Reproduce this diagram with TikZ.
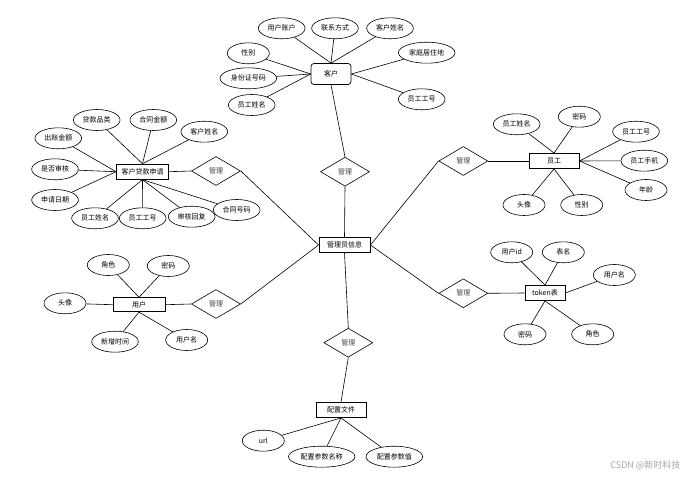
\documentclass[tikz,border=0pt]{standalone}
\usepackage{fontspec}
\setmainfont{Noto Sans CJK SC}
\usetikzlibrary{shapes.geometric}
\tikzset{
  attr/.style={ellipse, draw, line width=0.6pt, fill=white, minimum width=42pt, minimum height=21pt, inner xsep=2.5pt, inner ysep=1pt, font=\fontsize{7}{8}\selectfont},
  ent/.style={rectangle, draw, line width=0.9pt, fill=white, minimum height=15pt, inner sep=1pt, font=\fontsize{7}{8}\selectfont},
  rel/.style={diamond, draw, line width=0.6pt, fill=white, aspect=1.7, minimum width=49pt, minimum height=29pt, inner sep=0pt, font=\fontsize{7}{8}\selectfont, text=black!75},
  link/.style={line width=0.6pt},
}
\begin{document}
\begin{tikzpicture}[x=1pt,y=-1pt]
\useasboundingbox[fill=white] (0,0) rectangle (690,478);
% links drawn first
% center
\node[ent, minimum width=51pt] (m) at (344.5,245) {管理员信息};
% customer
\node[ent, rounded corners=3pt, minimum width=40pt, minimum height=21pt, line width=0.7pt] (k) at (331,74) {客户};
\node[attr] (k1) at (281.7,28.3) {用户账户};
\node[attr] (k2) at (335,28.3) {联系方式};
\node[attr] (k3) at (390,28.3) {客户姓名};
\node[attr] (k4) at (426.7,52.7) {家庭居住地};
\node[attr] (k5) at (248.3,53.3) {性别};
\node[attr] (k6) at (248.3,78.3) {身份证号码};
\node[attr] (k7) at (251.7,105) {员工姓名};
\node[attr] (k8) at (421.7,99.3) {员工工号};
\node[rel] (d1) at (345,171.7) {管理};
\foreach \a in {k1,k2,k3} \draw[link] (k.north) -- (\a);
\foreach \a in {k5,k6,k7} \draw[link] (k.west) -- (\a);
\foreach \a in {k4,k8} \draw[link] (k.east) -- (\a);
\draw[link] (k.south) -- (d1.north);
\draw[link] (d1.south) -- (m.north);
% loan application
\node[ent, minimum width=52pt] (l) at (142.5,171.7) {客户贷款申请};
\node[attr] (l1) at (96.7,120) {贷款品类};
\node[attr] (l2) at (153.3,120) {合同金额};
\node[attr] (l3) at (204.3,131.7) {客户姓名};
\node[attr] (l4) at (58.3,138.3) {出账金额};
\node[attr] (l5) at (55,169.3) {是否审核};
\node[attr] (l6) at (55,200) {申请日期};
\node[attr] (l7) at (95,218.3) {员工姓名};
\node[attr] (l8) at (142.7,218.3) {员工工号};
\node[attr] (l9) at (191.7,216.7) {审核回复};
\node[attr] (l10) at (236.7,210) {合同号码};
\node[rel] (d2) at (216,171) {管理};
\foreach \a in {l1,l2,l3} \draw[link] (l.north) -- (\a);
\foreach \a in {l4,l5,l6} \draw[link] (l.west) -- (\a);
\foreach \a in {l7,l8,l9,l10} \draw[link] (l.south) -- (\a);
\draw[link] (l.east) -- (d2.west);
\draw[link] (d2.east) -- (m.west);
% employee
\node[ent, minimum width=50pt] (e) at (554,161) {员工};
\node[attr] (e1) at (516.7,124.3) {员工姓名};
\node[attr] (e2) at (579.3,116.7) {密码};
\node[attr] (e3) at (636,131.7) {员工工号};
\node[attr] (e4) at (644.3,160.7) {员工手机};
\node[attr] (e5) at (646,190) {年龄};
\node[attr] (e6) at (524,205) {头像};
\node[attr] (e7) at (581.7,205) {性别};
\node[rel] (d3) at (463.3,161) {管理};
\foreach \a in {e1,e2} \draw[link] (e.north) -- (\a);
\foreach \a in {e3,e4,e5} \draw[link] (e.east) -- (\a);
\foreach \a in {e6,e7} \draw[link] (e.south) -- (\a);
\draw[link] (m.east) -- (d3.west);
\draw[link] (d3.east) -- (e.west);
% user
\node[ent, minimum width=52pt, minimum height=14pt] (u) at (139,304.7) {用户};
\node[attr] (u1) at (108.3,265) {角色};
\node[attr] (u2) at (168.3,266) {密码};
\node[attr] (u3) at (65,303.3) {头像};
\node[attr] (u4) at (115,341.7) {新增时间};
\node[attr] (u5) at (186.7,340) {用户名};
\node[rel] (d4) at (216,304) {管理};
\foreach \a in {u1,u2} \draw[link] (u.north) -- (\a);
\draw[link] (u.west) -- (u3);
\foreach \a in {u4,u5} \draw[link] (u.south) -- (\a);
\draw[link] (u.east) -- (d4.west);
\draw[link] (d4.east) -- (m.west);
% token
\node[ent, minimum width=40pt] (t) at (545,293) {token表};
\node[attr] (t1) at (511.7,252.3) {用户id};
\node[attr] (t2) at (563.3,252.3) {表名};
\node[attr] (t3) at (614.3,275) {用户名};
\node[attr] (t4) at (525,334.3) {密码};
\node[attr] (t5) at (592.7,334.3) {角色};
\node[rel] (d5) at (463.3,293.3) {管理};
\foreach \a in {t1,t2} \draw[link] (t.north) -- (\a);
\draw[link] (t.east) -- (t3);
\foreach \a in {t4,t5} \draw[link] (t.south) -- (\a);
\draw[link] (m.east) -- (d5.west);
\draw[link] (d5.east) -- (t.west);
% config
\node[ent, minimum width=50pt] (c) at (341,410) {配置文件};
\node[attr] (c1) at (263.3,440.7) {url};
\node[attr] (c2) at (321.7,456.7) {配置参数名称};
\node[attr] (c3) at (394.3,456.7) {配置参数值};
\node[rel] (d6) at (348.3,342.7) {管理};
\foreach \a in {c1,c2,c3} \draw[link] (c.south) -- (\a);
\draw[link] (m.south) -- (d6.north);
\draw[link] (d6.south) -- (c.north);
% watermark
\node[text=black!35, font=\fontsize{9}{10}\selectfont, anchor=east] (wm) at (684,465) {CSDN @新时科技};
\end{tikzpicture}
\end{document}
